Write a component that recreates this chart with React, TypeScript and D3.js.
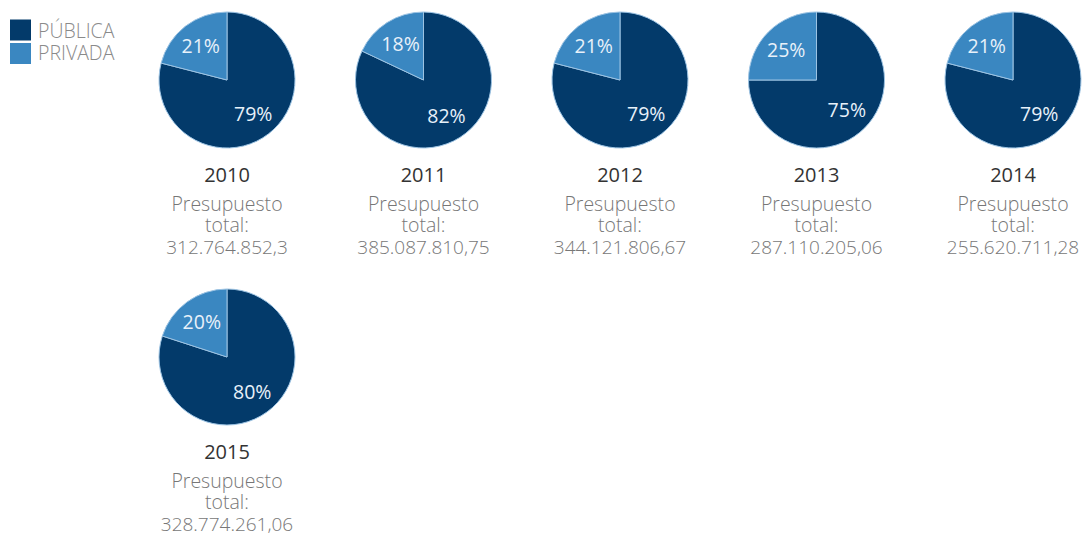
import * as d3 from "d3"
import { useRef, useEffect } from "react"

const years = ["2010", "2011", "2012", "2013", "2014", "2015"]
const publica = [79, 82, 79, 75, 79, 80]
const privada = [21, 18, 21, 25, 21, 20]
const totals = [
  "312.764.852,3",
  "385.087.810,75",
  "344.121.806,67",
  "287.110.205,06",
  "255.620.711,28",
  "328.774.261,06",
]
const legendLabels = ["PÚBLICA", "PRIVADA"]
const colors = ["#033a6a", "#3a87c1"]

const W = 1086
const H = 534

export default function App() {
  const svgRef = useRef<SVGSVGElement>(null)

  useEffect(() => {
    if (!svgRef.current) return
    const svg = d3.select(svgRef.current)
    svg.selectAll("*").remove()

    const font = "'Open Sans', sans-serif"
    const radius = 68
    const perRow = 5
    const colX = d3.scaleLinear().domain([0, perRow - 1]).range([227, 1013])
    const rowY = d3.scaleLinear().domain([0, 1]).range([80, 357])

    // legend
    const legend = svg.append("g").attr("transform", "translate(10,19.5)")
    legendLabels.forEach((label, i) => {
      legend
        .append("rect")
        .attr("x", 0)
        .attr("y", i * 23.5)
        .attr("width", 21)
        .attr("height", 21)
        .attr("fill", colors[i])
      legend
        .append("text")
        .attr("x", 28)
        .attr("y", i * 22 + 18)
        .style("font-family", font)
        .style("font-weight", 300)
        .style("font-size", "19.5px")
        .style("fill", "#8a8a8a")
        .text(label)
    })

    const pie = d3
      .pie<number>()
      .sort(null)
      .value((d) => d)
    const arc = d3.arc<d3.PieArcDatum<number>>().innerRadius(0).outerRadius(radius)
    const labelArc = d3
      .arc<d3.PieArcDatum<number>>()
      .innerRadius(radius * 0.63)
      .outerRadius(radius * 0.63)

    years.forEach((year, i) => {
      const cx = colX(i % perRow)
      const cy = rowY(Math.floor(i / perRow))
      const g = svg.append("g").attr("transform", `translate(${cx},${cy})`)
      const arcs = pie([publica[i], privada[i]])

      g.selectAll("path")
        .data(arcs)
        .enter()
        .append("path")
        .attr("d", arc)
        .attr("fill", (_, j) => colors[j])
        .attr("stroke", "#9cc3e3")
        .attr("stroke-width", 1)

      g.selectAll("text.pct")
        .data(arcs)
        .enter()
        .append("text")
        .attr("class", "pct")
        .attr("transform", (d) => `translate(${labelArc.centroid(d)})`)
        .attr("text-anchor", "middle")
        .attr("dy", "0.36em")
        .style("font-family", font)
        .style("font-size", "19.5px")
        .style("fill", "#e8f1fa")
        .text((d) => `${d.data}%`)

      const lines = [
        { t: year, dy: 102, color: "#333", size: "20px", weight: 400 },
        { t: "Presupuesto", dy: 130.5, color: "#777", size: "19.5px", weight: 300 },
        { t: "total:", dy: 151.5, color: "#777", size: "19.5px", weight: 300 },
        { t: totals[i], dy: 173.5, color: "#777", size: "19px", weight: 300 },
      ]
      lines.forEach((l) => {
        g.append("text")
          .attr("x", 0)
          .attr("y", l.dy)
          .attr("text-anchor", "middle")
          .style("font-family", font)
          .style("font-size", l.size)
          .style("font-weight", l.weight)
          .style("fill", l.color)
          .text(l.t)
      })
    })
  }, [])

  return (
    <svg
      ref={svgRef}
      width={W}
      height={H}
      style={{ position: "absolute", left: 0, top: 0, background: "#fff" }}
    />
  )
}
